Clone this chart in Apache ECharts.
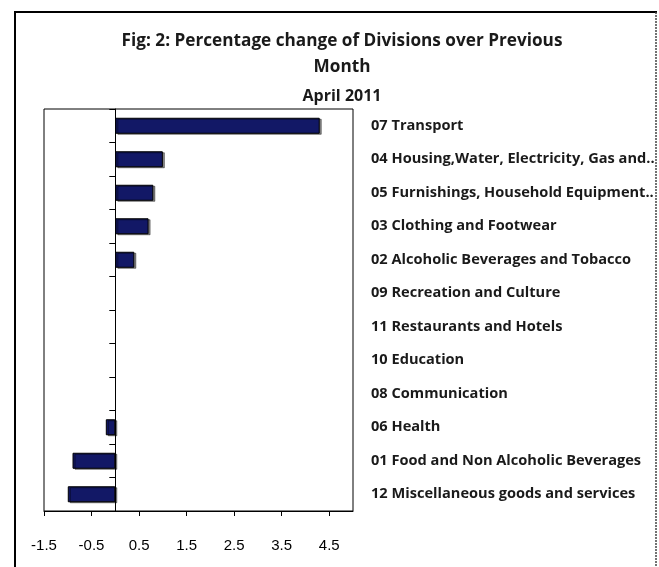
<!DOCTYPE html>
<html>
<head>
<meta charset="utf-8">
<script src="https://cdn.jsdelivr.net/npm/echarts@6/dist/echarts.min.js"></script>
<style>
html,body{margin:0;padding:0;background:#fff;}
#chart{width:659px;height:567px;}
</style>
</head>
<body>
<div id="chart"></div>
<script>
const categories = [
  "07 Transport",
  "04 Housing,Water, Electricity, Gas and..",
  "05 Furnishings, Household Equipment..",
  "03 Clothing and Footwear",
  "02 Alcoholic Beverages and Tobacco",
  "09 Recreation and Culture",
  "11 Restaurants and Hotels",
  "10 Education",
  "08 Communication",
  "06 Health",
  "01 Food and Non Alcoholic Beverages",
  "12 Miscellaneous goods and services"
];
const changes = [4.3, 1.0, 0.8, 0.7, 0.4, 0, 0, 0, 0, -0.2, -0.9, -1.0];
const xTicks = [-1.5, -0.5, 0.5, 1.5, 2.5, 3.5, 4.5];
const titleLines = ["Fig: 2: Percentage change of Divisions over Previous", "Month"];
const subTitle = "April 2011";

const FONT = "'Open Sans', Lato, sans-serif";
const barData = changes.map(v => v === 0
  ? {value: v, itemStyle: {borderWidth: 0, shadowColor: 'rgba(0,0,0,0)'}}
  : {value: v});

const chart = echarts.init(document.getElementById('chart'), null, {renderer: 'canvas'});
chart.setOption({
  animation: false,
  backgroundColor: '#fff',
  graphic: [
    {type: 'line', shape: {x1: 15, y1: 12, x2: 15, y2: 600}, style: {stroke: '#000', lineWidth: 2}},
    {type: 'line', shape: {x1: 14, y1: 12, x2: 657, y2: 12}, style: {stroke: '#000', lineWidth: 2}},
    {type: 'line', shape: {x1: 656, y1: 12, x2: 656, y2: 600}, style: {stroke: '#444', lineWidth: 1.5, lineDash: [2, 1]}}
  ],
  title: {
    text: titleLines.join('\n'),
    subtext: subTitle,
    left: 337,
    textAlign: 'center',
    top: 23,
    itemGap: 4,
    textStyle: {fontFamily: FONT, fontSize: 17.2, fontWeight: 'bold', color: '#1a1a1a', lineHeight: 26},
    subtextStyle: {fontFamily: FONT, fontSize: 16, fontWeight: 'bold', color: '#1a1a1a', lineHeight: 24}
  },
  grid: {
    left: 44, top: 109, width: 309, height: 402,
    show: true, borderColor: '#000', borderWidth: 1, backgroundColor: '#fff',
    containLabel: false
  },
  xAxis: {
    type: 'value',
    min: -1.5, max: 5,
    splitLine: {show: false},
    axisLine: {show: true, lineStyle: {color: '#000', width: 1}},
    axisTick: {show: true, length: 5, customValues: xTicks, lineStyle: {color: '#000'}},
    axisLabel: {
      customValues: xTicks,
      margin: 27,
      fontFamily: "'Liberation Sans Narrow', 'Liberation Sans', sans-serif",
      fontSize: 15,
      color: '#000',
      formatter: v => v.toFixed(1)
    }
  },
  yAxis: [
    {
      type: 'category',
      data: categories,
      inverse: true,
      axisLine: {show: true, onZero: true, lineStyle: {color: '#000', width: 1}},
      axisTick: {show: true, length: 6, lineStyle: {color: '#000'}},
      axisLabel: {show: false},
      splitLine: {show: false}
    },
    {
      type: 'category',
      data: categories,
      inverse: true,
      position: 'right',
      axisLine: {show: false},
      axisTick: {show: false},
      splitLine: {show: false},
      axisLabel: {
        show: true, margin: 18, align: 'left',
        fontFamily: FONT, fontSize: 14.6, fontWeight: 'bold', color: '#1a1a1a'
      }
    }
  ],
  series: [{
    type: 'bar',
    yAxisIndex: 0,
    data: barData,
    barWidth: 16,
    itemStyle: {
      color: '#121866',
      borderColor: '#000',
      borderWidth: 1,
      shadowColor: 'rgba(0,0,0,0.45)',
      shadowOffsetX: 2,
      shadowOffsetY: 1,
      shadowBlur: 0
    }
  }]
});
</script>
</body>
</html>
